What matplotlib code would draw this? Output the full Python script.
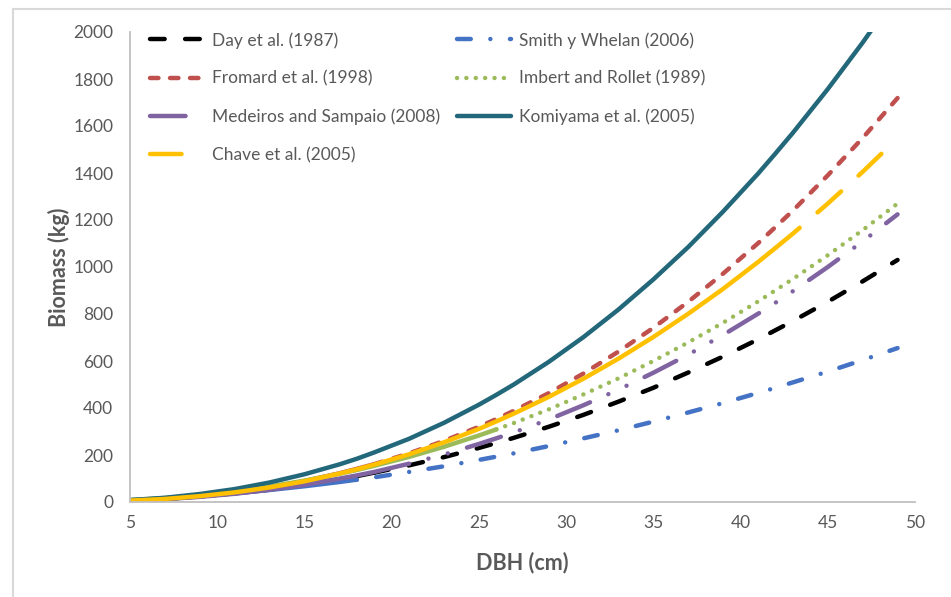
import matplotlib
matplotlib.use('Agg')
import matplotlib.pyplot as plt
from matplotlib.lines import Line2D

# diameter at breast height (cm) and above-ground biomass (kg) per equation
dbh = [5, 7, 9, 11, 13, 15, 17, 18, 19, 21, 23, 25, 26, 27, 29, 31, 33, 35,
       37, 39, 41, 42, 43, 45, 47, 49]
day = [6, 13, 24, 37, 53, 74, 97, 110, 125, 156, 191, 230, 251, 273, 320, 371,
       427, 486, 551, 619, 692, 731, 770, 852, 939, 1030]
smith = [8, 15, 25, 37, 51, 67, 85, 95, 105, 128, 152, 179, 193, 207, 238, 271,
         305, 342, 381, 421, 464, 486, 509, 555, 604, 655]
fromard = [6, 13, 25, 41, 62, 89, 122, 141, 161, 207, 260, 320, 353, 388, 463,
           547, 640, 741, 852, 972, 1101, 1170, 1240, 1390, 1549, 1719]
imbert = [8, 17, 29, 45, 66, 91, 120, 136, 154, 192, 235, 283, 309, 336, 394,
          458, 526, 600, 679, 763, 853, 901, 949, 1050, 1157, 1270]
medeiros = [5, 12, 22, 35, 52, 73, 99, 113, 128, 163, 202, 247, 271, 296, 351,
            412, 478, 550, 627, 711, 801, 848, 897, 1000, 1109, 1224]
komiyama = [8, 18, 34, 55, 83, 118, 160, 184, 211, 269, 337, 414, 456, 500, 596,
            702, 819, 947, 1085, 1236, 1397, 1483, 1571, 1757, 1955, 2166]
chave = [6, 13, 25, 41, 62, 88, 121, 139, 159, 203, 254, 311, 343, 376, 447,
         525, 610, 702, 801, 907, 1021, 1081, 1142, 1270, 1405, 1548]

labels = ['Day et al. (1987)', 'Smith y Whelan (2006)', 'Fromard et al. (1998)',
          'Imbert and Rollet (1989)', 'Medeiros and Sampaio (2008)',
          'Komiyama et al. (2005)', 'Chave et al. (2005)']
# DBH up to which each equation is drawn solid; dashed beyond
solid_until = [19, 18, 19, 26, 21, 50, 42]

TEXT = '#595959'
LW = 3.2
plt.rcParams['font.family'] = ['Lato', 'DejaVu Sans']

# colour, dash pattern (in line widths), dash offset on the dashed part
styles = [
    ('#000000', (3.3, 4.6), 0),
    ('#4472C4', (3.1, 4.4, 0.01, 4.4), 7.5),
    ('#C0504D', (1.9, 2.6), 0),
    ('#9BBB59', (0.01, 2.1), 0),
    ('#8064A2', (8.0, 4.5, 0.01, 4.5, 0.01, 4.5), 8.0),
    ('#23687A', None, 0),
    ('#FFC000', (7.1, 5.3), 0),
]
series = [day, smith, fromard, imbert, medeiros, komiyama, chave]

fig = plt.figure(figsize=(9.51, 5.97), dpi=100)
ax = fig.add_axes([130 / 951, 95 / 597, 785 / 951, 470 / 597])

handles = []
for vals, (color, dashes, offset), lim, lab in zip(series, styles, solid_until, labels):
    xs = [d for d in dbh if d <= lim]
    ys = [v for d, v in zip(dbh, vals) if d <= lim]
    ax.plot(xs, ys, color=color, lw=LW, solid_capstyle='round')
    if dashes is not None:
        xd = [d for d in dbh if d >= lim]
        yd = [v for d, v in zip(dbh, vals) if d >= lim]
        ax.plot(xd, yd, color=color, lw=LW, linestyle=(offset, dashes),
                dash_capstyle='round')
        handles.append(Line2D([], [], color=color, lw=LW, linestyle=(0, dashes),
                              dash_capstyle='round', label=lab))
    else:
        handles.append(Line2D([], [], color=color, lw=LW, solid_capstyle='round',
                              label=lab))

ax.set_xlim(5, 50)
ax.set_ylim(0, 2000)
ax.set_xticks(range(5, 51, 5))
ax.set_yticks(range(0, 2001, 200))
ax.tick_params(length=0, labelsize=12.5, labelcolor=TEXT)
ax.tick_params(axis='y', pad=12)
ax.tick_params(axis='x', pad=9)
for side in ['top', 'right']:
    ax.spines[side].set_visible(False)
for side in ['left', 'bottom']:
    ax.spines[side].set_color('#BFBFBF')
    ax.spines[side].set_linewidth(1.3)

ax.set_xlabel('DBH (cm)', fontsize=15.5, fontweight='bold', color=TEXT)
ax.set_ylabel('Biomass (kg)', fontsize=15.5, fontweight='bold', color=TEXT)
ax.xaxis.set_label_coords(0.5, -0.128)
ax.yaxis.set_label_coords(-0.09, 0.5)
ax.xaxis.label.set_va('center')
ax.yaxis.label.set_va('center')

# legend: two columns, column-major order
order = [0, 2, 4, 6, 1, 3, 5]
ax.legend([handles[i] for i in order], [labels[i] for i in order], ncol=2,
          loc='upper left', bbox_to_anchor=(150 / 951, 1 - 32 / 597),
          bbox_transform=fig.transFigure, frameon=False, fontsize=12.5,
          labelcolor=TEXT, handlelength=3.1, handletextpad=0.45,
          columnspacing=1.0, labelspacing=1.27, borderpad=0, borderaxespad=0)

# thin frame on the chart area edges
fig.add_artist(Line2D([13 / 951, 1], [1 - 9 / 597, 1 - 9 / 597], color='#D9D9D9',
                      lw=1.5, transform=fig.transFigure))
fig.add_artist(Line2D([13 / 951, 13 / 951], [0, 1 - 9 / 597], color='#D9D9D9',
                      lw=1.5, transform=fig.transFigure))

fig.savefig('out.png', dpi=100)
